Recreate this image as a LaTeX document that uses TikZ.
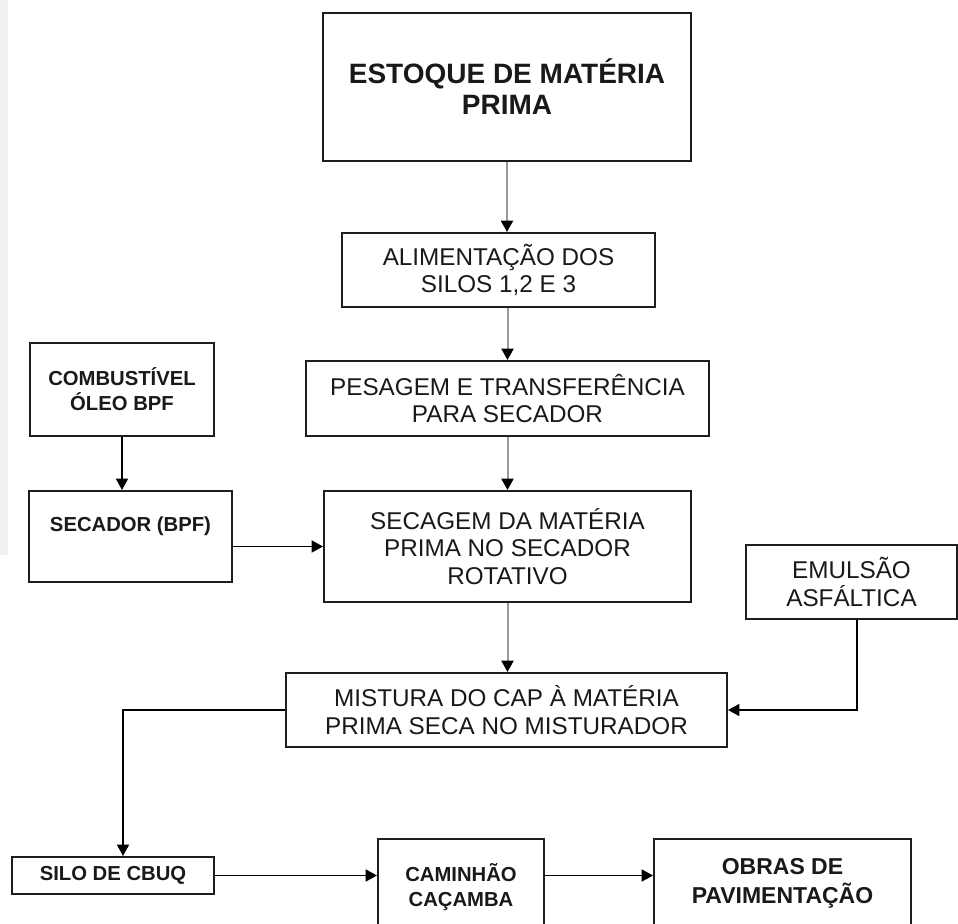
\documentclass[tikz,border=0pt]{standalone}
\usepackage{fontspec}
\setmainfont{Liberation Sans}
\usetikzlibrary{arrows.meta}
\definecolor{flowgray}{HTML}{9A9A9A}
\definecolor{edgeink}{HTML}{1E1E1E}

\tikzset{
  box/.style={draw=edgeink, line width=1.5pt, align=center, inner sep=0pt, text=black!90},
  plain/.style={font=\fontsize{18.2}{20.5}\selectfont},
  strong/.style={font=\bfseries\fontsize{15.2}{18.75}\selectfont},
  flow/.style={draw=flowgray, line width=1.5pt, -{Triangle[length=8.5pt,width=9pt,color=black]}},
  link/.style={draw=black, line width=1.1pt, -{Triangle[length=8.5pt,width=9pt]}},
}

\begin{document}
\begin{tikzpicture}[x=0.75pt, y=-0.75pt]
  \useasboundingbox (0,0) rectangle (958,924);
  \fill[black!6] (0,0) rectangle (8,555);

  % Define nodes
  \node[box, font=\bfseries\fontsize{21}{23.25}\selectfont, minimum width=276pt, minimum height=111pt]
    (estoque) at (507,87) {ESTOQUE DE MATÉRIA\\PRIMA};
  \node[box, plain, minimum width=234.75pt, minimum height=55.5pt]
    (alim) at (498.5,270) {ALIMENTAÇÃO DOS\\SILOS 1,2 E 3};
  \node[box, plain, minimum width=302.25pt, minimum height=56.25pt]
    (pesagem) at (507.5,398.5) {PESAGEM E TRANSFERÊNCIA\\PARA SECADOR};
  \node[box, plain, minimum width=275.25pt, minimum height=83.25pt]
    (secagem) at (507.5,546.5) {SECAGEM DA MATÉRIA\\PRIMA NO SECADOR\\ROTATIVO};
  \node[box, plain, minimum width=330.75pt, minimum height=55.5pt]
    (mistura) at (506.5,710) {MISTURA DO CAP À MATÉRIA\\PRIMA SECA NO MISTURADOR};
  \node[box, strong, minimum width=138pt, minimum height=69.75pt]
    (combust) at (122,389.5) {COMBUSTÍVEL\\ÓLEO BPF};
  \node[box, strong, minimum width=152.25pt, minimum height=68.25pt]
    (secador) at (130.5,536.5) {SECADOR (BPF)\\~};
  \node[box, plain, minimum width=158.25pt, minimum height=55.5pt]
    (emulsao) at (851.5,582) {EMULSÃO\\ASFÁLTICA};
  \node[box, strong, minimum width=151.5pt, minimum height=27.75pt]
    (silo) at (113,875.5) {SILO DE CBUQ};
  \node[box, strong, minimum width=124.5pt, minimum height=72pt]
    (caminhao) at (461,887) {CAMINHÃO\\CAÇAMBA};
  \node[box, font=\bfseries\fontsize{17.25}{21.75}\selectfont, minimum width=192.75pt, minimum height=66pt]
    (obras) at (782.5,883) {OBRAS DE\\PAVIMENTAÇÃO};

  % Connect nodes
  \draw[flow] (estoque) -- (estoque |- alim.north);
  \draw[flow] (pesagem.north |- alim.south) -- (pesagem.north);
  \draw[flow] (pesagem) -- (secagem);
  \draw[flow] (secagem) -- (secagem |- mistura.north);
  \draw[link] (combust) -- (combust |- secador.north);
  \draw[link] (secador.east |- secagem) -- (secagem.west);
  \draw[link] ([xshift=4.1pt]emulsao.south) |- (mistura.east);
  \draw[link] (mistura.west) -| ([xshift=7.5pt]silo.north);
  \draw[link] (silo.east) -- (silo.east -| caminhao.west);
  \draw[link] (caminhao.east |- silo.east) -- (obras.west |- silo.east);
\end{tikzpicture}
\end{document}
